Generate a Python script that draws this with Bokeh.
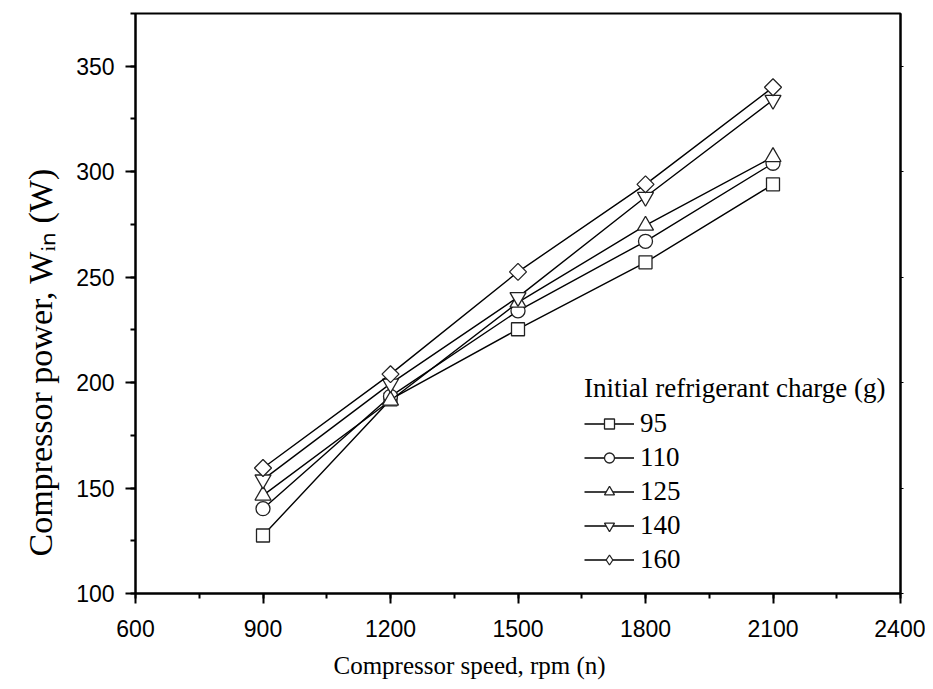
import numpy as np
from bokeh.plotting import figure
from bokeh.models import (Range1d, SingleIntervalTicker, LinearAxis, Legend, LegendItem,
                          CustomJSTickFormatter, Title)
from bokeh.embed import file_html
from bokeh.resources import INLINE

# ---- data ----
speed = [900, 1200, 1500, 1800, 2100]
charges = ["95", "110", "125", "140", "160"]
power_95 = [127.5, 192.0, 225.3, 257.0, 294.0]
power_110 = [140.2, 193.5, 234.0, 267.0, 304.0]
power_125 = [146.5, 191.5, 238.0, 274.5, 307.0]
power_140 = [154.0, 199.5, 240.5, 288.0, 334.0]
power_160 = [159.5, 204.0, 252.5, 294.0, 340.0]
series = [power_95, power_110, power_125, power_140, power_160]

markers = ["square", "circle", "triangle", "inverted_triangle", "square"]
sizes = [13, 14, 16, 16, 12]
angles = [0, 0, 0, 0, np.pi / 4]

p = figure(width=925, height=688, output_backend="svg", toolbar_location=None,
           x_range=Range1d(600, 2400), y_range=Range1d(100, 375),
           min_border_left=135, min_border_right=25, min_border_top=13, min_border_bottom=95)
p.grid.visible = False
p.background_fill_color = "white"
p.border_fill_color = "white"
p.outline_line_color = "black"
p.outline_line_width = 2

TICK_FONT = "Liberation Sans"
SERIF = "Liberation Serif"

p.xaxis.ticker = SingleIntervalTicker(interval=300, num_minor_ticks=2)
p.yaxis.ticker = SingleIntervalTicker(interval=50, num_minor_ticks=2)
for ax in (p.xaxis, p.yaxis):
    ax.axis_line_width = 2
    ax.major_tick_line_width = 2
    ax.minor_tick_line_width = 2
    ax.major_tick_out = 10
    ax.major_tick_in = 0
    ax.minor_tick_out = 5
    ax.minor_tick_in = 0
    ax.major_label_text_font = TICK_FONT
    ax.major_label_text_font_size = "23px"
    ax.major_label_text_color = "black"
p.xaxis.major_label_standoff = 16
p.yaxis.major_label_standoff = 11

right = LinearAxis(ticker=SingleIntervalTicker(interval=50, num_minor_ticks=2),
                   formatter=CustomJSTickFormatter(code="return ''"))
right.axis_line_width = 2
right.major_tick_out = 3
right.major_tick_in = 0
right.minor_tick_out = 0
right.minor_tick_in = 0
p.add_layout(right, "right")

# axis titles, off-centre like the original
xtitle = Title(text="Compressor speed, rpm (n)", align="left", offset=198,
               text_font=SERIF, text_font_size="25px", text_font_style="normal",
               text_color="black", standoff=20)
ytitle = Title(text="Compressor power, W\u1d62\u2099 (W)", align="left", offset=37,
               text_font=SERIF, text_font_size="34px", text_font_style="normal",
               text_color="black", standoff=30)
p.add_layout(xtitle, "below")
p.add_layout(ytitle, "left")

items = []
for name, vals, mk, sz, ang in zip(charges, series, markers, sizes, angles):
    ln = p.line(speed, vals, line_color="black", line_width=1.4)
    if name == "160":
        # plain diamond hidden under the rotated square; used for the legend swatch
        lg = p.scatter(speed, vals, marker="diamond", size=15, fill_color="white",
                       line_color="#222222", line_width=1.3)
    sc = p.scatter(speed, vals, marker=mk, size=sz, angle=ang, fill_color="white",
                   line_color="#222222", line_width=1.3)
    items.append(LegendItem(label=name, renderers=[ln, lg if name == "160" else sc]))

legend = Legend(items=items, location=(449, 18), title="Initial refrigerant charge (g)")
legend.title_text_font = SERIF
legend.title_text_font_size = "27px"
legend.title_text_font_style = "normal"
legend.title_text_color = "black"
legend.title_standoff = 4
legend.label_text_font = SERIF
legend.label_text_font_size = "27px"
legend.label_text_color = "black"
legend.glyph_width = 50
legend.glyph_height = 25
legend.label_height = 25
legend.spacing = 3
legend.label_standoff = 6
legend.padding = 0
legend.margin = 0
legend.border_line_color = None
legend.background_fill_alpha = 0
p.add_layout(legend)

open("out.html", "w").write(file_html(p, INLINE))
